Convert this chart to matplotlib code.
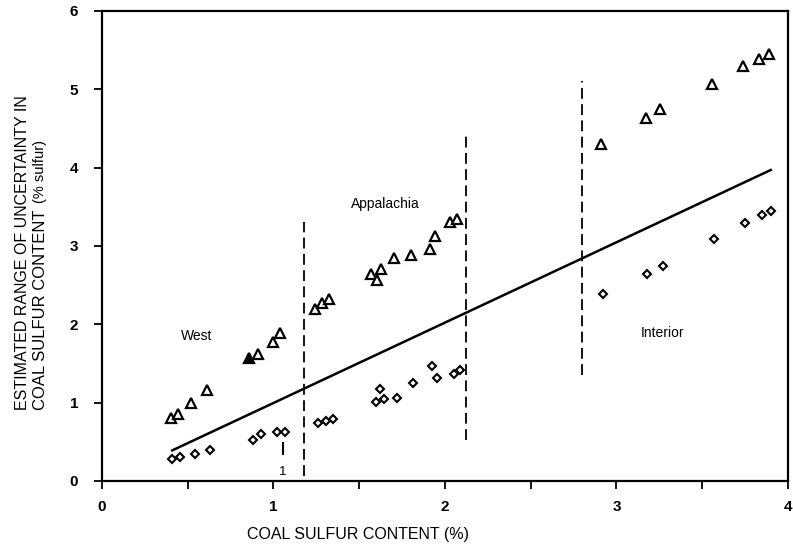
import matplotlib
matplotlib.use("Agg")
import matplotlib.pyplot as plt

plt.rcParams['font.family'] = ['Liberation Sans', 'DejaVu Sans']

# upper estimate (triangles)
tri_x = [0.40, 0.445, 0.52, 0.61, 0.91, 0.995, 1.04,
         1.24, 1.285, 1.325, 1.57, 1.605, 1.625, 1.70, 1.80, 1.91, 1.94, 2.03, 2.07,
         2.91, 3.17, 3.255, 3.56, 3.74, 3.83, 3.89]
tri_y = [0.80, 0.86, 0.99, 1.16, 1.62, 1.78, 1.89,
         2.19, 2.27, 2.32, 2.64, 2.56, 2.71, 2.85, 2.89, 2.96, 3.13, 3.31, 3.35,
         4.30, 4.63, 4.75, 5.07, 5.30, 5.39, 5.45]
filled_x = [0.86]
filled_y = [1.57]

# lower estimate (diamonds)
dia_x = [0.41, 0.455, 0.54, 0.63, 0.88, 0.925, 1.02, 1.065,
         1.26, 1.305, 1.345, 1.60, 1.62, 1.645, 1.72, 1.815, 1.925, 1.955, 2.05, 2.09,
         2.92, 3.18, 3.27, 3.57, 3.75, 3.85, 3.90]
dia_y = [0.28, 0.31, 0.35, 0.39, 0.52, 0.60, 0.62, 0.62,
         0.74, 0.76, 0.79, 1.01, 1.17, 1.04, 1.06, 1.25, 1.47, 1.32, 1.37, 1.41,
         2.39, 2.64, 2.74, 3.09, 3.29, 3.39, 3.45]

# fitted line
fit_x = [0.41, 3.90]
fit_y = [0.39, 3.97]

# region boundaries
bound_x = [1.18, 2.12, 2.80]
bound_lo = [0.06, 0.52, 1.35]
bound_hi = [3.30, 4.41, 5.10]

regions = ['West', 'Appalachia', 'Interior']
region_x = [0.55, 1.65, 3.27]
region_y = [1.85, 3.54, 1.89]

fig = plt.figure(figsize=(7.93, 5.49), dpi=100)
ax = fig.add_axes([0.1286, 0.124, 0.865, 0.856])

ax.plot(fit_x, fit_y, color='black', lw=1.8)
for bx, lo, hi in zip(bound_x, bound_lo, bound_hi):
    ax.plot([bx, bx], [lo, hi], color='black', lw=1.3, dashes=(6, 3))

ax.plot(tri_x, tri_y, ls='none', marker='^', ms=7, mfc='white', mec='black', mew=1.6)
ax.plot(filled_x, filled_y, ls='none', marker='^', ms=7, mfc='black', mec='black', mew=1.6)
ax.plot(dia_x, dia_y, ls='none', marker='D', ms=4.5, mfc='white', mec='black', mew=1.5)

# stray marks near x=1
ax.plot([1.055, 1.055], [0.35, 0.49], color='black', lw=1.5)
ax.text(1.055, 0.11, '1', ha='center', va='center', fontsize=9.5)

for name, rx, ry in zip(regions, region_x, region_y):
    ax.text(rx, ry, name, ha='center', va='center', fontsize=10)

ax.set_xlim(0, 4)
ax.set_ylim(0, 6)
ax.set_xticks([0, 1, 2, 3, 4])
ax.set_xticks([0.5, 1.5, 2.5, 3.5], minor=True)
ax.set_yticks([0, 1, 2, 3, 4, 5, 6])
ax.tick_params(which='both', direction='out', length=6, width=1.3)
ax.tick_params(axis='both', labelsize=11)
for lab in ax.get_xticklabels() + ax.get_yticklabels():
    lab.set_fontweight('bold')
ax.tick_params(axis='x', pad=8)
ax.tick_params(axis='y', pad=11)
for s in ax.spines.values():
    s.set_linewidth(1.6)

fig.text(0.452, 0.026, 'COAL SULFUR CONTENT (%)', ha='center', va='center', fontsize=11.5)
fig.text(0.028, 0.253, 'ESTIMATED RANGE OF UNCERTAINTY IN', rotation=90,
         ha='center', va='bottom', fontsize=11.5)
t2 = fig.text(0.051, 0.253, 'COAL SULFUR CONTENT', rotation=90,
              ha='center', va='bottom', fontsize=12)
fig.canvas.draw()
bb = t2.get_window_extent().transformed(fig.transFigure.inverted())
fig.text(0.051, bb.y1 + 0.012, '(% sulfur)', rotation=90,
         ha='center', va='bottom', fontsize=10.5)

fig.savefig('out.png', dpi=100)
